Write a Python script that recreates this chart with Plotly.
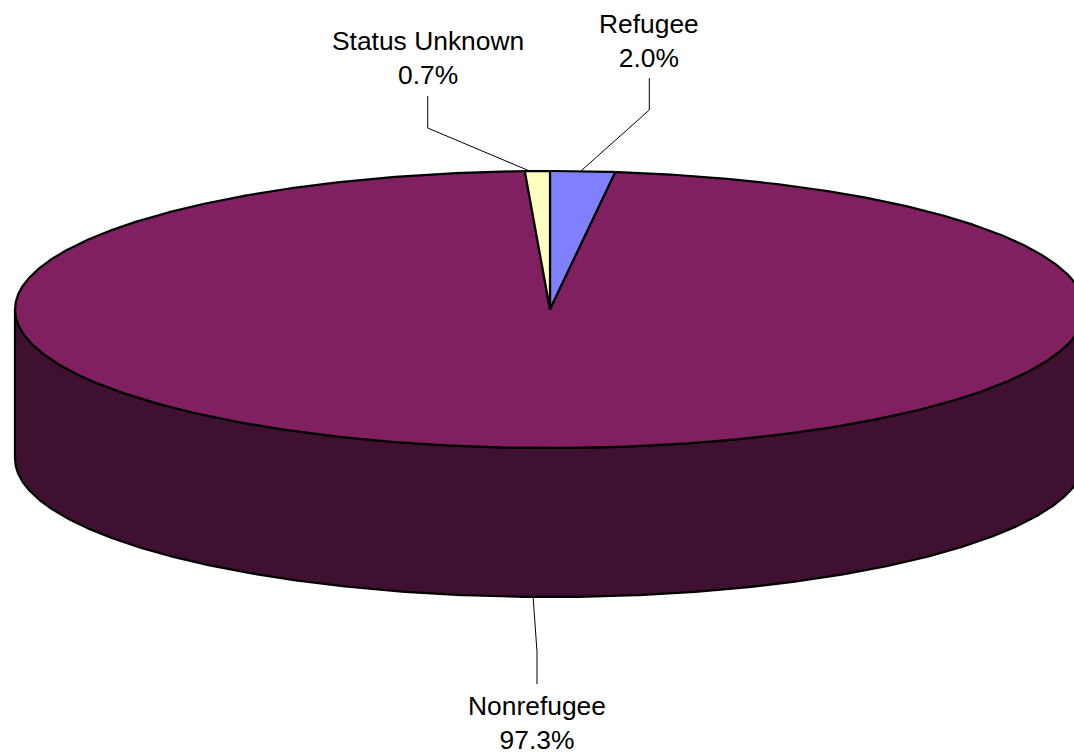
import numpy as np
import plotly.graph_objects as go

# Data, in drawing order clockwise from 12 o'clock
categories = ["Refugee", "Nonrefugee", "Status Unknown"]
shares = [1.95, 97.3, 0.75]
value_labels = ["2.0%", "97.3%", "0.7%"]

# Style and layout
colors = ["#8080FF", "#802060", "#FFFFC0"]
side_color = "#401030"
W, H = 1074, 755
CX, CY, RX, RY, DEPTH = 550, 309.5, 535, 138.5, 149
OUTLINE = 2.2
FONT = dict(family="Liberation Sans, Arial, sans-serif", size=26.4, color="#000000")
# where along each slice's arc the leader touches, and its elbow route to the label
leader_frac = [0.468, 0.499, 0.2]
label_xy = [(649, 7), (536.5, 689), (427.5, 24)]
leader_route = [[(649.3, 78), (649.3, 110)], [(537, 684), (537, 652)], [(427.7, 96), (427.7, 128)]]


def ex(t):
    return CX + RX * np.sin(t)


def ey(t, drop=0.0):
    return CY - RY * np.cos(t) + drop


fig = go.Figure()

# visible wall: the front half of the rim, extruded downwards
tf = np.linspace(np.pi / 2, 3 * np.pi / 2, 500)
side_x = np.concatenate([ex(tf), ex(tf[::-1])])
side_y = np.concatenate([ey(tf), ey(tf[::-1], DEPTH)])
fig.add_trace(go.Scatter(x=np.append(side_x, side_x[0]), y=np.append(side_y, side_y[0]),
                         mode="lines", fill="toself", fillcolor=side_color,
                         line=dict(color="black", width=OUTLINE), hoverinfo="skip", showlegend=False))

# top face
total = sum(shares)
start = 0.0
mid_points = []
for name, share, color, frac in zip(categories, shares, colors, leader_frac):
    sweep = 2 * np.pi * share / total
    t = np.linspace(start, start + sweep, max(8, int(share * 12)))
    x = np.concatenate([[CX], ex(t), [CX]])
    y = np.concatenate([[CY], ey(t), [CY]])
    fig.add_trace(go.Scatter(x=x, y=y, mode="lines", fill="toself", fillcolor=color,
                             line=dict(color="black", width=OUTLINE), name=name,
                             hoverinfo="skip", showlegend=False))
    ta = start + sweep * frac
    on_front = np.cos(ta) < 0
    mid_points.append((float(ex(ta)), float(ey(ta, DEPTH if on_front else 0.0))))
    start += sweep

# leaders
for route, end in zip(leader_route, mid_points):
    pts = route + [end]
    fig.add_trace(go.Scatter(x=[p[0] for p in pts], y=[p[1] for p in pts], mode="lines",
                             line=dict(color="black", width=1), hoverinfo="skip", showlegend=False))

# labels
for name, val, (lx, ly) in zip(categories, value_labels, label_xy):
    fig.add_annotation(x=lx, y=ly, xref="x", yref="y", text=f"{name}<br>{val}", showarrow=False,
                       xanchor="center", yanchor="top", align="center", font=FONT)

fig.update_layout(width=W, height=H, margin=dict(l=0, r=0, t=0, b=0),
                  paper_bgcolor="white", plot_bgcolor="white",
                  xaxis=dict(range=[0, W], visible=False, fixedrange=True),
                  yaxis=dict(range=[H, 0], visible=False, fixedrange=True))

fig.write_html("out.html", config=dict(displayModeBar=False),
               post_script="document.body.style.margin='0';document.documentElement.style.overflow='hidden';")
